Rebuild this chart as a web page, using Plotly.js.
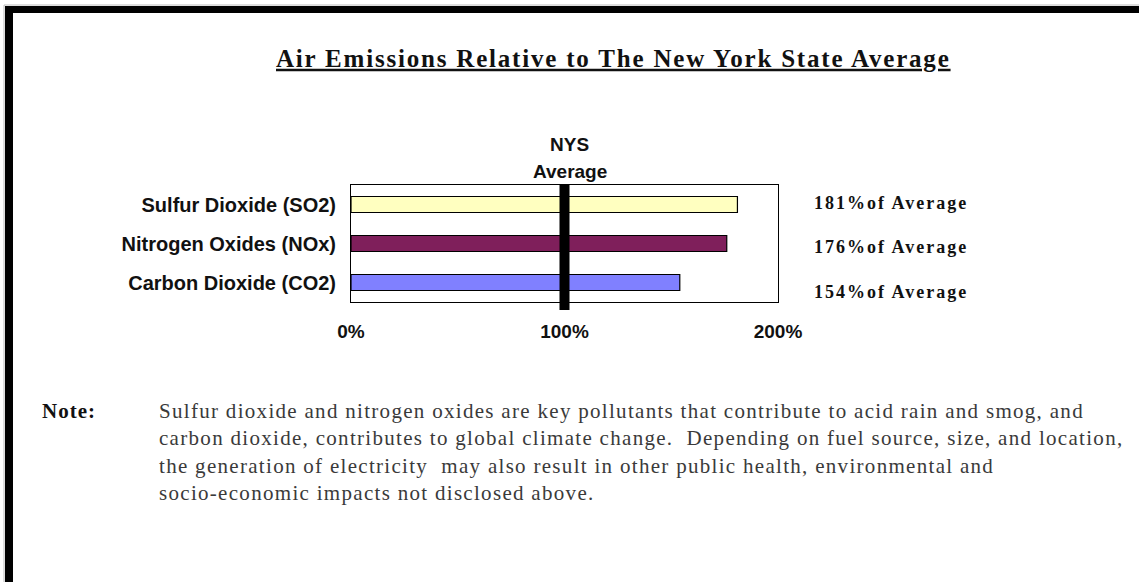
<!DOCTYPE html>
<html>
<head>
<meta charset="utf-8">
<script src="https://cdn.plot.ly/plotly-3.0.1.min.js"></script>
<style>
  html, body { margin: 0; padding: 0; background: #fff; }
  #chart { width: 1139px; height: 582px; }
</style>
</head>
<body>
<div id="chart"></div>
<script>
// ---- data ----
const categories = ["Sulfur Dioxide (SO2)", "Nitrogen Oxides (NOx)", "Carbon Dioxide (CO2)"];
const percentOfAverage = [181, 176, 154];
const barColors = ["#FFFFC0", "#7F1F5B", "#8080FF"];
const nysAverage = 100;
const xTickValues = [0, 100, 200];
const xTickLabels = ["0%", "100%", "200%"];
const titleText = "Air Emissions Relative to The New York State Average";
const noteLabel = "Note:";
const noteLines = [
  "Sulfur dioxide and nitrogen oxides are key pollutants that contribute to acid rain and smog, and",
  "carbon dioxide, contributes to global climate change.  Depending on fuel source, size, and location,",
  "the generation of electricity  may also result in other public health, environmental and",
  "socio-economic impacts not disclosed above."
];

// ---- helpers (pixel -> paper) ----
const W = 1139, H = 582;
const px = x => x / W;
const py = y => 1 - y / H;

const trace = {
  type: "bar",
  orientation: "h",
  y: categories,
  x: percentOfAverage,
  width: 0.41,
  marker: { color: barColors, line: { color: "#000", width: 1.2 } },
  hoverinfo: "skip"
};

const rightLabelY = [202.7, 247.3, 291.7];
const annotations = [];
percentOfAverage.forEach((v, i) => {
  annotations.push({
    text: v + "%of Average",
    xref: "paper", yref: "paper",
    x: px(826), y: py(rightLabelY[i]),
    xanchor: "left", yanchor: "middle",
    showarrow: false,
    font: { family: "Liberation Serif, Times New Roman, serif", size: 18, color: "#111", weight: "bold" }
  });
});
annotations.push({
  text: "NYS", xref: "x", yref: "paper", x: nysAverage, xshift: 5,
  y: py(144), yanchor: "middle", xanchor: "center", showarrow: false,
  font: { family: "Liberation Sans, Arial, sans-serif", size: 19, color: "#111", weight: "bold" }
});
annotations.push({
  text: "Average", xref: "x", yref: "paper", x: nysAverage, xshift: 5,
  y: py(171), yanchor: "middle", xanchor: "center", showarrow: false,
  font: { family: "Liberation Sans, Arial, sans-serif", size: 19, color: "#111", weight: "bold" }
});
annotations.push({
  text: noteLabel, xref: "paper", yref: "paper", x: px(40), y: py(397),
  xanchor: "left", yanchor: "top", align: "left", showarrow: false,
  font: { family: "Liberation Serif, Times New Roman, serif", size: 21, color: "#111", weight: "bold" }
});
annotations.push({
  text: noteLines.join("<br>"), xref: "paper", yref: "paper", x: px(157), y: py(397),
  xanchor: "left", yanchor: "top", align: "left", showarrow: false,
  font: { family: "Liberation Serif, Times New Roman, serif", size: 21, color: "#3a3a3a" }
});

const shapes = [
  // NYS average marker
  { type: "line", xref: "x", yref: "paper", x0: nysAverage, x1: nysAverage,
    y0: py(310), y1: py(185), line: { color: "#000", width: 10 }, layer: "above" },
  // page frame
  { type: "rect", xref: "paper", yref: "paper", x0: px(5), x1: 1, y0: py(13), y1: py(6),
    fillcolor: "#000", line: { width: 0 } },
  { type: "rect", xref: "paper", yref: "paper", x0: px(5), x1: px(13), y0: 0, y1: py(6),
    fillcolor: "#000", line: { width: 0 } },
  { type: "line", xref: "paper", yref: "paper", x0: px(4), x1: 1, y0: py(5), y1: py(5),
    line: { color: "#bbb", width: 1 } },
  { type: "line", xref: "paper", yref: "paper", x0: px(4), x1: px(4), y0: 0, y1: py(5),
    line: { color: "#bbb", width: 1 } }
];

const layout = {
  width: W, height: H,
  margin: { l: 0, r: 0, t: 0, b: 0 },
  paper_bgcolor: "#fff", plot_bgcolor: "#fff",
  showlegend: false,
  title: {
    text: titleText,
    xref: "paper", yref: "paper", x: px(276), xanchor: "left",
    y: py(58), yanchor: "middle",
    font: { family: "Liberation Serif, Times New Roman, serif", size: 25, color: "#111", weight: "bold", lineposition: "under" }
  },
  xaxis: {
    domain: [px(351), px(778)],
    range: [0, 200],
    tickvals: xTickValues, ticktext: xTickLabels,
    ticks: "", ticklabelstandoff: 12,
    showgrid: false, zeroline: false,
    showline: true, mirror: true, linecolor: "#000", linewidth: 1,
    tickfont: { family: "Liberation Sans, Arial, sans-serif", size: 19, color: "#111", weight: "bold" },
    fixedrange: true
  },
  yaxis: {
    domain: [py(302), py(185)],
    type: "category",
    categoryorder: "array", categoryarray: categories,
    range: [2.5, -0.5],
    ticks: "", ticklabelstandoff: 10,
    showgrid: false, zeroline: false,
    showline: true, mirror: true, linecolor: "#000", linewidth: 1,
    tickfont: { family: "Liberation Sans, Arial, sans-serif", size: 20, color: "#111", weight: "bold" },
    fixedrange: true
  },
  annotations: annotations,
  shapes: shapes
};

Plotly.newPlot("chart", [trace], layout, { staticPlot: true, displayModeBar: false }).then(() => {
  const ann = document.querySelectorAll("g.annotation");
  const n = percentOfAverage.length;
  ann.forEach((g, i) => {
    const t = g.querySelector("text.annotation-text");
    if (!t) return;
    if (i < n) t.style.letterSpacing = "2px";
    if (i === n + 2) t.style.letterSpacing = "1px";
    if (i === n + 3) t.style.letterSpacing = "1.3px";
  });
  const tt = document.querySelector("text.gtitle");
  if (tt) tt.style.letterSpacing = "1.8px";
});
</script>
</body>
</html>
